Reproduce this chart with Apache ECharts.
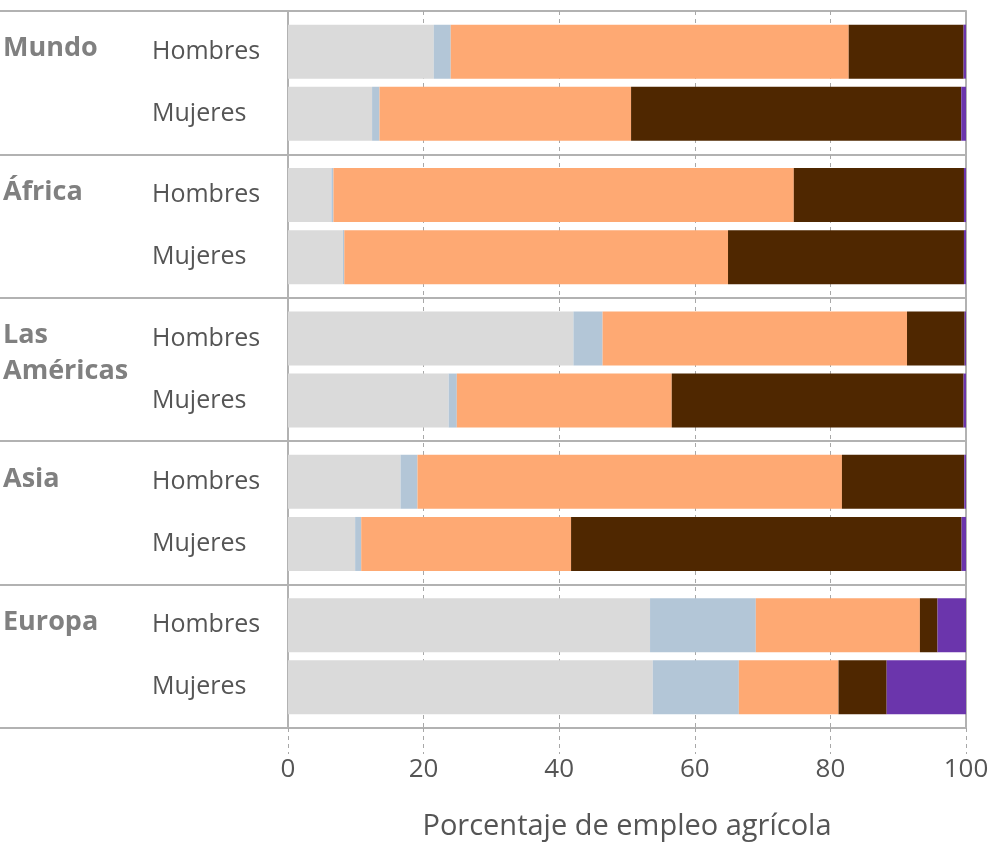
<!DOCTYPE html>
<html>
<head>
<meta charset="utf-8">
<script src="https://cdn.jsdelivr.net/npm/echarts@6/dist/echarts.min.js"></script>
<style>
html,body{margin:0;padding:0;background:#fff;}
#chart{width:1000px;height:843px;}
</style>
</head>
<body>
<div id="chart"></div>
<script>
const regions = ['Mundo', 'África', 'Las Américas', 'Asia', 'Europa'];
const genders = ['Hombres', 'Mujeres'];
const segmentNames = ['Categoría 1', 'Categoría 2', 'Categoría 3', 'Categoría 4', 'Categoría 5'];
const xTicks = [0, 20, 40, 60, 80, 100];
const xTitle = 'Porcentaje de empleo agrícola';

// Hombres: segment values per region
const hombresS1 = [21.5, 6.4, 42.1, 16.6, 53.4];
const hombresS2 = [2.5, 0.3, 4.3, 2.5, 15.6];
const hombresS3 = [58.7, 67.9, 44.9, 62.6, 24.2];
const hombresS4 = [16.95, 25.1, 8.5, 18.05, 2.6];
const hombresS5 = [0.35, 0.3, 0.2, 0.25, 4.2];
// Mujeres: segment values per region
const mujeresS1 = [12.4, 8.1, 23.7, 9.9, 53.8];
const mujeresS2 = [1.1, 0.2, 1.2, 0.9, 12.7];
const mujeresS3 = [37.1, 56.6, 31.7, 30.95, 14.7];
const mujeresS4 = [48.7, 34.8, 43.05, 57.6, 7.1];
const mujeresS5 = [0.7, 0.3, 0.35, 0.65, 11.7];

const colors = ['#dadada', '#b3c6d7', '#fea973', '#4f2700', '#6b35ac'];
const lineGray = '#b2b2b2';
const textGray = '#555555';
const FONT = 'Open Sans';

const stacks = [
  [hombresS1, hombresS2, hombresS3, hombresS4, hombresS5],
  [mujeresS1, mujeresS2, mujeresS3, mujeresS4, mujeresS5]
];

const series = [];
stacks.forEach((segs, g) => {
  segs.forEach((arr, s) => {
    const ser = {
      name: segmentNames[s] + ' - ' + genders[g],
      type: 'bar',
      stack: genders[g],
      barWidth: 54,
      barGap: '15%',
      data: arr,
      itemStyle: { color: colors[s] },
      silent: true
    };
    if (s === 0) {
      ser.label = {
        show: true,
        position: 'insideLeft',
        distance: 0,
        offset: [-136, 0],
        formatter: () => genders[g],
        color: textGray,
        fontFamily: FONT,
        fontSize: 25
      };
    }
    series.push(ser);
  });
});

function regionLabel(v) {
  const parts = v.split(' ');
  const lines = parts.map(p => '{r|' + p + '}');
  while (lines.length < 2) lines.push('{r| }');
  lines.push('{e| }');
  return lines.join('\n');
}

const chart = echarts.init(document.getElementById('chart'), null, { renderer: 'canvas' });
chart.setOption({
  animation: false,
  backgroundColor: '#ffffff',
  grid: { left: 288, right: 34, top: 11, bottom: 115, containLabel: false, outerBoundsMode: 'none' },
  xAxis: {
    type: 'value',
    min: xTicks[0],
    max: xTicks[xTicks.length - 1],
    interval: xTicks[1] - xTicks[0],
    name: xTitle,
    nameLocation: 'middle',
    nameGap: 84,
    nameTextStyle: { color: textGray, fontFamily: FONT, fontSize: 29 },
    axisLine: { show: true, lineStyle: { color: lineGray, width: 2 } },
    axisTick: { show: true, length: 26, lineStyle: { color: '#a8a8a8', width: 1, type: [4, 4] } },
    axisLabel: { color: textGray, fontFamily: FONT, fontSize: 26, margin: 29 },
    splitLine: { show: true, lineStyle: { color: '#a8a8a8', width: 1, type: [4, 4] } }
  },
  yAxis: [
    {
      type: 'category',
      data: regions,
      inverse: true,
      axisLine: { show: true, onZero: false, lineStyle: { color: lineGray, width: 2 } },
      axisTick: { show: true, length: 288, lineStyle: { color: lineGray, width: 2 } },
      splitLine: { show: true, lineStyle: { color: lineGray, width: 2 } },
      axisLabel: {
        align: 'left',
        margin: 285,
        formatter: regionLabel,
        rich: {
          r: { color: '#808080', fontFamily: FONT, fontWeight: 'bold', fontSize: 27, lineHeight: 36 },
          e: { fontFamily: FONT, fontSize: 12, lineHeight: 32 }
        }
      }
    },
    {
      type: 'category',
      data: regions,
      inverse: true,
      position: 'right',
      axisLine: { show: true, onZero: false, lineStyle: { color: lineGray, width: 2 } },
      axisTick: { show: false },
      axisLabel: { show: false },
      splitLine: { show: false }
    }
  ],
  series: series
});
</script>
</body>
</html>
